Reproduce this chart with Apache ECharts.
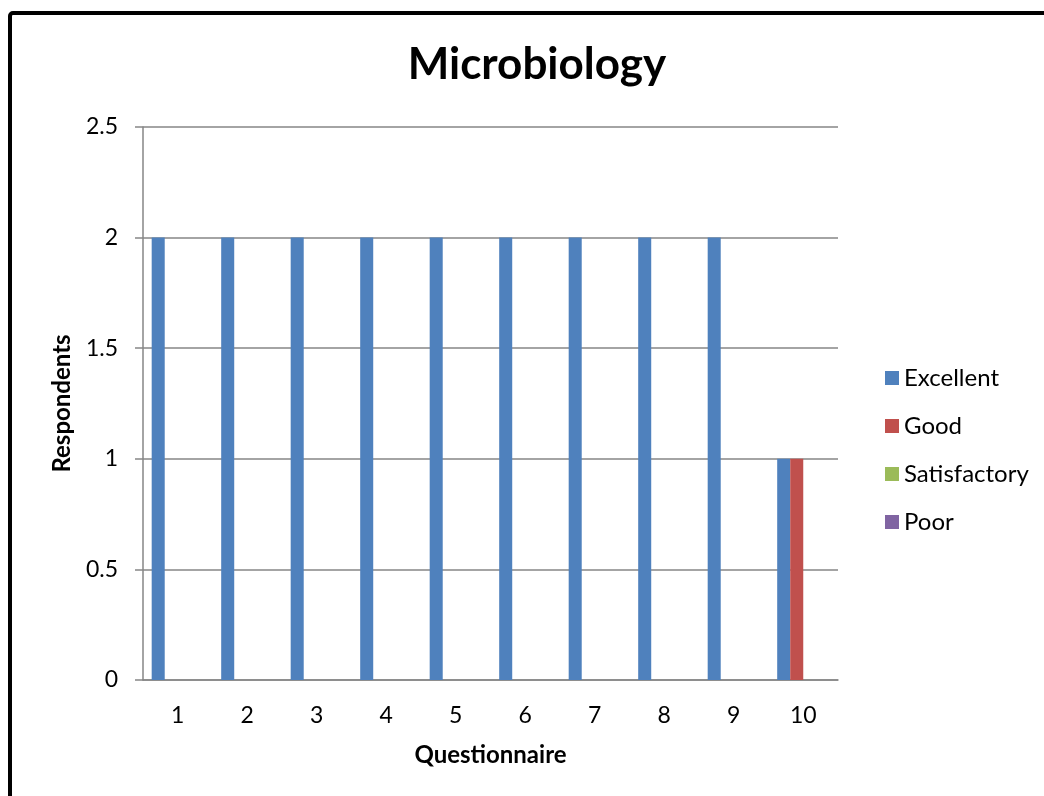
<!DOCTYPE html>
<html><head><meta charset="utf-8">
<script src="https://cdn.jsdelivr.net/npm/echarts@6/dist/echarts.min.js"></script>
<style>html,body{margin:0;padding:0;background:#fff}#c{width:1044px;height:796px}</style>
</head><body><div id="c"></div>
<script>
var categories = ['1','2','3','4','5','6','7','8','9','10'];
var excellent = [2,2,2,2,2,2,2,2,2,1];
var good = [0,0,0,0,0,0,0,0,0,1];
var satisfactory = [0,0,0,0,0,0,0,0,0,0];
var poor = [0,0,0,0,0,0,0,0,0,0];
var seriesNames = ['Excellent','Good','Satisfactory','Poor'];
var colors = ['#4F81BD','#C0504D','#9BBB59','#8064A2'];
var F = 'Lato, "Open Sans", sans-serif';
var chart = echarts.init(document.getElementById('c'));
var data = [excellent, good, satisfactory, poor];
chart.setOption({
  animation:false,
  color: colors,
  title:{text:'Microbiology',left:532,textAlign:'center',top:38,textStyle:{fontFamily:F,fontSize:44,fontWeight:'bold',color:'#000'}},
  legend:{orient:'vertical',left:880,top:361,itemWidth:14,itemHeight:14,itemGap:24,icon:'rect',
    textStyle:{fontFamily:F,fontSize:24,color:'#000'},data:seriesNames},
  grid:{left:143,right:206,top:127,bottom:116},
  xAxis:{type:'category',data:categories,
    axisLine:{lineStyle:{color:'#868686',width:1.5}},axisTick:{show:false},
    axisLabel:{fontFamily:F,fontSize:23,color:'#000',margin:24},
    name:'Questionnaire',nameLocation:'middle',nameGap:63,
    nameTextStyle:{fontFamily:F,fontSize:24,fontWeight:'bold',color:'#000'}},
  yAxis:{type:'value',min:0,max:2.5,interval:0.5,
    axisLine:{show:true,lineStyle:{color:'#868686',width:1.5}},
    axisTick:{show:true,length:8,lineStyle:{color:'#868686',width:1.5}},
    splitLine:{lineStyle:{color:'#868686',width:1.5}},
    axisLabel:{fontFamily:F,fontSize:23,color:'#000',margin:25},
    name:'Respondents',nameLocation:'middle',nameGap:69,nameRotate:90,
    nameTextStyle:{fontFamily:F,fontSize:24,fontWeight:'bold',color:'#000'}},
  series: seriesNames.map(function(n,i){return {name:n,type:'bar',data:data[i],barGap:'0%',barCategoryGap:'25%'};}),
  graphic:[{type:'rect',shape:{x:10,y:13,width:1100,height:900,r:3},style:{fill:'none',stroke:'#000',lineWidth:4},z:100}]
});
</script></body></html>
